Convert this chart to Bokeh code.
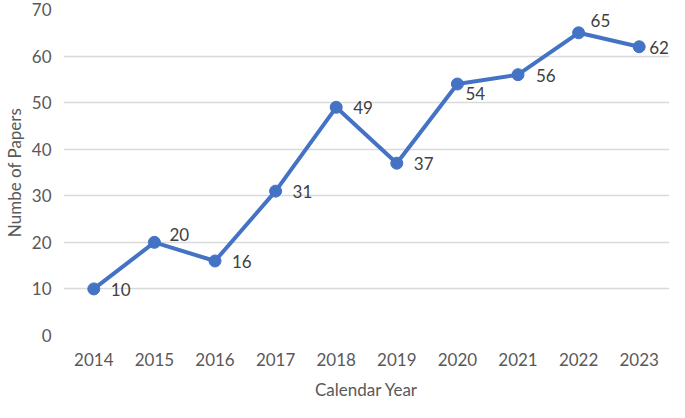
from bokeh.plotting import figure
from bokeh.embed import file_html
from bokeh.resources import INLINE
from bokeh.models import ColumnDataSource, Range1d, FactorRange
from bokeh.core.properties import value

years = ["2014", "2015", "2016", "2017", "2018", "2019", "2020", "2021", "2022", "2023"]
papers = [10, 20, 16, 31, 49, 37, 54, 56, 65, 62]
labels = [str(v) for v in papers]
# label nudges (style only, screen pixels; positive = right / down)
label_dx = [17, 15, 17, 17, 17, 17, 8, 18, 12, 10]
label_dy = [1, -8, 1, 0, 0, 0, 9, 1, -12, 1]

FONT = "Lato"
LINE = "#4472C4"

src = ColumnDataSource(dict(x=years, y=papers, t=labels, dx=label_dx, dy=label_dy))

p = figure(width=669, height=402, x_range=FactorRange(*years), y_range=Range1d(0, 70),
           output_backend="svg", toolbar_location=None,
           min_border_left=0, min_border_right=0, min_border_top=9, min_border_bottom=0)
p.outline_line_color = None
p.background_fill_color = "white"
p.border_fill_color = "white"

p.line("x", "y", source=src, line_color=LINE, line_width=4)
p.scatter("x", "y", source=src, size=12, fill_color=LINE, line_color=LINE)
p.text("x", "y", text="t", source=src, x_offset="dx", y_offset="dy",
       text_baseline="middle", text_align="left", text_font=value(FONT),
       text_font_size="17px", text_color="#404040")

p.xgrid.grid_line_color = None
p.ygrid.grid_line_color = "#D9D9D9"
p.ygrid.grid_line_width = 1.5
p.yaxis.ticker = [0, 10, 20, 30, 40, 50, 60, 70]

for ax in (p.xaxis[0], p.yaxis[0]):
    ax.axis_line_color = None
    ax.major_tick_line_color = None
    ax.minor_tick_line_color = None
    ax.major_tick_out = 0
    ax.major_tick_in = 0
    ax.major_label_text_font = FONT
    ax.major_label_text_font_size = "17px"
    ax.major_label_text_color = "#595959"
    ax.axis_label_text_font = FONT
    ax.axis_label_text_font_size = "17px"
    ax.axis_label_text_font_style = "normal"
    ax.axis_label_text_color = "#595959"

p.xaxis.major_label_standoff = 17
p.xaxis.axis_label = "Calendar Year"
p.xaxis.axis_label_standoff = 10
p.yaxis.major_label_standoff = 12
p.yaxis.axis_label = "Numbe of Papers"
p.yaxis.axis_label_standoff = 4

open("out.html", "w").write(file_html(p, INLINE))
